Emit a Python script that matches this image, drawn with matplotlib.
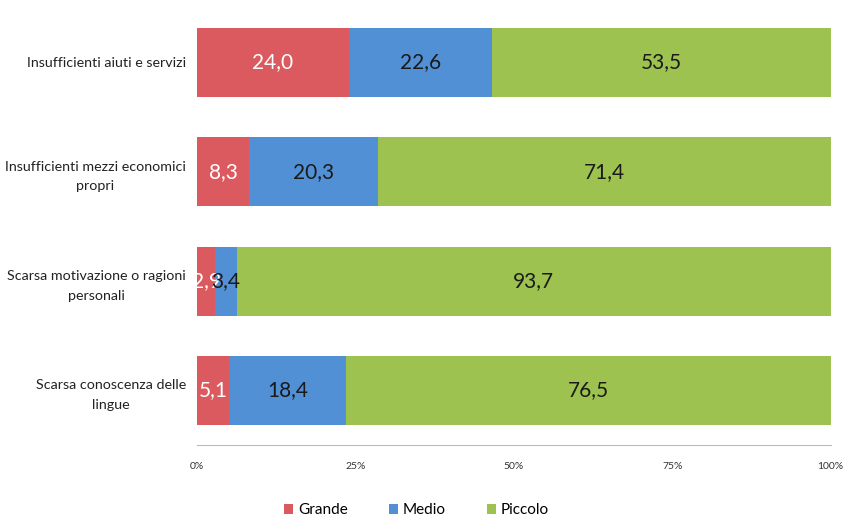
import matplotlib.pyplot as plt
from matplotlib.ticker import PercentFormatter

# data
categories = ['Insufficienti aiuti e servizi',
              'Insufficienti mezzi economici\npropri',
              'Scarsa motivazione o ragioni\npersonali',
              'Scarsa conoscenza delle\nlingue']
grande = [24.0, 8.3, 2.9, 5.1]
medio = [22.6, 20.3, 3.4, 18.4]
piccolo = [53.5, 71.4, 93.7, 76.5]
series_names = ['Grande', 'Medio', 'Piccolo']

colors = ['#db5a5f', '#5290d6', '#9dc250']
text_colors = ['white', '#1a1a1a', '#1a1a1a']

plt.rcParams['font.family'] = ['Lato', 'DejaVu Sans']

fig = plt.figure(figsize=(8.45, 5.2), dpi=100)
ax = fig.add_axes([0.233, 0.144, 0.750, 0.841])

y = list(range(len(categories)))
left = [0.0] * len(categories)
for name, vals, c, tc in zip(series_names, [grande, medio, piccolo], colors, text_colors):
    bars = ax.barh(y, vals, left=left, height=0.63, color=c, label=name)
    for b, v in zip(bars, vals):
        ax.text(b.get_x() + b.get_width() / 2, b.get_y() + b.get_height() / 2,
                f'{v:.1f}'.replace('.', ','), ha='center', va='center',
                fontsize=15, color=tc)
    left = [l + v for l, v in zip(left, vals)]

ax.set_xlim(0, 100)
ax.set_ylim(3.5, -0.5)
ax.set_yticks(y)
ax.set_yticklabels(categories, fontsize=10.3, color='#222222', ha='right',
                   multialignment='center', linespacing=1.75)
ax.tick_params(axis='y', length=0, pad=8)
ax.set_xticks([0, 25, 50, 75, 100])
ax.xaxis.set_major_formatter(PercentFormatter(decimals=0))
ax.tick_params(axis='x', length=0, labelsize=7.5, colors='#333333', pad=12)

for s in ['top', 'right', 'left']:
    ax.spines[s].set_visible(False)
ax.spines['bottom'].set_color('#bbbbbb')

fig.legend(loc='center', bbox_to_anchor=(0.493, 0.019), ncol=3, frameon=False,
           fontsize=11, handlelength=0.6, handleheight=0.6, columnspacing=2.7,
           handletextpad=0.3)

fig.savefig('out.png', dpi=100)
